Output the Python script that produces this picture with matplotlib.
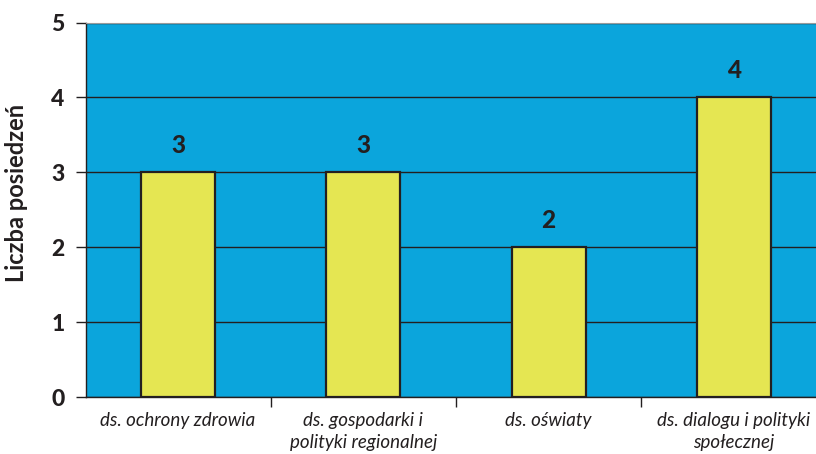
import matplotlib
matplotlib.use("Agg")
import matplotlib.pyplot as plt
import numpy as np

categories = ["ds. ochrony zdrowia", "ds. gospodarki i\npolityki regionalnej",
              "ds. oświaty", "ds. dialogu i polityki\nspołecznej"]
values = [3, 3, 2, 4]
y_ticks = [0, 1, 2, 3, 4, 5]

BLUE = "#0BA5DC"
YELLOW = "#E5E652"
TEXT = "#231F20"

plt.rcParams["font.family"] = ["Lato", "DejaVu Sans"]

fig = plt.figure(figsize=(8.16, 4.54), dpi=100)
ax = fig.add_axes([85.5 / 816, 57 / 454, 741 / 816, 374.5 / 454])
ax.set_facecolor(BLUE)

x = np.arange(len(categories))
ax.bar(x, values, width=0.4, color=YELLOW, edgecolor=TEXT, linewidth=1.6, zorder=3)
for xi, v in zip(x, values):
    ax.text(xi, v + 0.2, str(v), ha="center", va="bottom", fontsize=17.5,
            fontweight="black", color=TEXT)

ax.set_xlim(-0.5, len(categories) - 0.5)
ax.set_ylim(0, 5)
ax.set_yticks(y_ticks)
ax.set_yticklabels([str(t) for t in y_ticks], fontsize=16.5, fontweight="black", color=TEXT)
ax.yaxis.grid(True, color=TEXT, linewidth=1.0, zorder=0)
ax.set_axisbelow(True)

ax.set_xticks(x)
ax.set_xticklabels(categories, fontsize=13.5, style="italic", color=TEXT, linespacing=1.35)
ax.tick_params(axis="x", which="major", length=0, pad=11)
ax.set_xticks(x[:-1] + 0.5, minor=True)
ax.tick_params(axis="x", which="minor", length=7, direction="out", color=TEXT, width=1)
ax.tick_params(axis="y", length=7, direction="out", color=TEXT, width=1, pad=8)

ax.set_ylabel("Liczba posiedzeń", fontsize=17, fontweight="bold", color=TEXT)
ax.yaxis.set_label_coords(-0.077, 0.545)

for side in ["left", "bottom"]:
    ax.spines[side].set_color(TEXT)
    ax.spines[side].set_linewidth(1.0)
ax.spines["top"].set_color("#9A9A9A")
ax.spines["right"].set_visible(False)

fig.savefig("out.png", dpi=100)
